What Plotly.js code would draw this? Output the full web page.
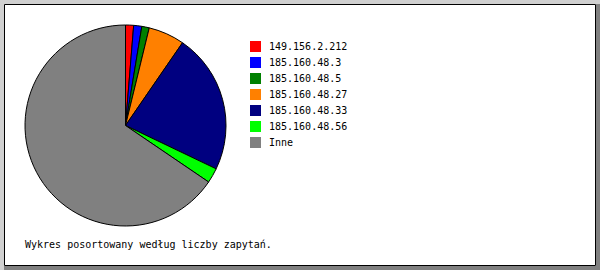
<!DOCTYPE html>
<html>
<head>
<meta charset="utf-8">
<script src="https://cdn.plot.ly/plotly-3.0.1.min.js"></script>
<style>
html,body{margin:0;padding:0;background:#fff;}
#chart{width:600px;height:270px;}
</style>
</head>
<body>
<div id="chart"></div>
<script>
var labels = ["149.156.2.212", "185.160.48.3", "185.160.48.5", "185.160.48.27", "185.160.48.33", "185.160.48.56", "Inne"];
var values = [1.3, 1.3, 1.2, 5.8, 22.5, 2.4, 65.5];
var colors = ["#ff0000", "#0000ff", "#008000", "#ff8000", "#000080", "#00ff00", "#808080"];
var footer = "Wykres posortowany według liczby zapytań.";

var W = 600, H = 270;
function px(x){ return x / W; }
function py(y){ return 1 - y / H; }

var FONT = "DejaVu Sans Mono, monospace";

var trace = {
  type: "pie",
  labels: labels,
  values: values,
  sort: false,
  direction: "clockwise",
  rotation: 0,
  textinfo: "none",
  hoverinfo: "none",
  showlegend: false,
  marker: { colors: colors, line: { color: "#000000", width: 1 } },
  domain: { x: [px(25), px(226)], y: [py(226), py(25)] }
};

var shapes = [
  { type: "rect", xref: "paper", yref: "paper", x0: 0, x1: 1, y0: py(4), y1: 1, fillcolor: "#d0d0d0", line: { width: 0 } },
  { type: "rect", xref: "paper", yref: "paper", x0: 0, x1: px(4), y0: 0, y1: 1, fillcolor: "#d0d0d0", line: { width: 0 } },
  { type: "rect", xref: "paper", yref: "paper", x0: px(596), x1: 1, y0: 0, y1: py(4), fillcolor: "#808080", line: { width: 0 } },
  { type: "rect", xref: "paper", yref: "paper", x0: px(4), x1: 1, y0: 0, y1: py(266), fillcolor: "#808080", line: { width: 0 } },
  { type: "rect", xref: "paper", yref: "paper", x0: px(4.5), x1: px(595.5), y0: py(265.5), y1: py(4.5), fillcolor: "rgba(0,0,0,0)", line: { color: "#000000", width: 1 } }
];
var annotations = [];
for (var i = 0; i < labels.length; i++) {
  var itemTop = 41 + i * 16;
  shapes.push({ type: "rect", xref: "paper", yref: "paper", x0: px(250), x1: px(261), y0: py(itemTop + 11), y1: py(itemTop), fillcolor: colors[i], line: { width: 0 } });
  annotations.push({ xref: "paper", yref: "paper", x: px(267), y: py(itemTop + 5.5), xanchor: "left", yanchor: "middle", showarrow: false, text: labels[i], font: { family: FONT, size: 10, color: "#000000" } });
}
annotations.push({ xref: "paper", yref: "paper", x: px(23), y: py(244), xanchor: "left", yanchor: "middle", showarrow: false, text: footer, font: { family: FONT, size: 10, color: "#000000" } });

var layout = {
  width: W, height: H,
  margin: { l: 0, r: 0, t: 0, b: 0 },
  paper_bgcolor: "#ffffff",
  showlegend: false,
  shapes: shapes,
  annotations: annotations
};

Plotly.newPlot("chart", [trace], layout, { displayModeBar: false, staticPlot: true });
</script>
</body>
</html>
